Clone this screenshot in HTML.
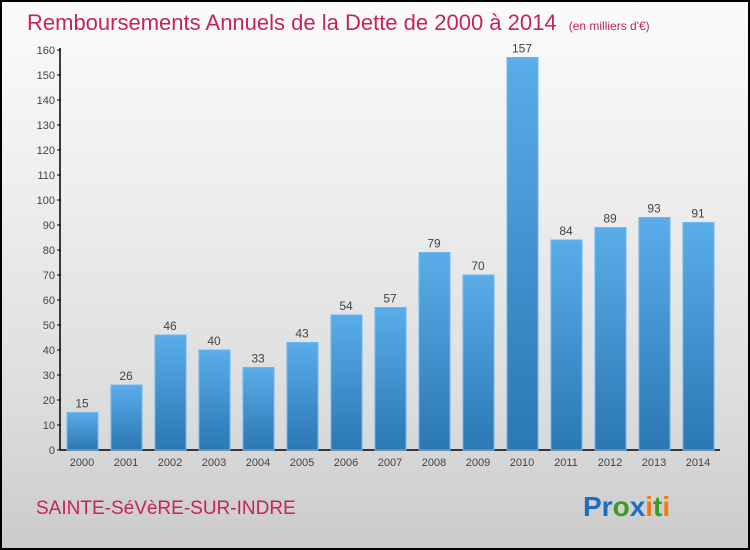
<!DOCTYPE html>
<html><head><meta charset="utf-8"><style>
body{margin:0;}
#wrap{position:relative;width:746px;height:546px;border:2px solid #000;background:linear-gradient(#fbfbfb,#f0f0f0 30%,#dcdcdc 75%,#cbcbcb);font-family:"Liberation Sans",sans-serif;overflow:hidden;}
</style></head><body>
<div id="wrap">
<svg width="746" height="546" viewBox="2 2 746 546">
<defs><linearGradient id="bg" x1="0" y1="0" x2="0" y2="1"><stop offset="0" stop-color="#5aacea"/><stop offset="1" stop-color="#2a78b4"/></linearGradient></defs>
<text x="27" y="30" font-size="22" fill="#c4245a">Remboursements Annuels de la Dette de 2000 à 2014 <tspan font-size="12" dx="6">(en milliers d'€)</tspan></text>
<g id="axes"></g><g id="bars"></g>
<text x="36" y="514" font-size="19" fill="#c4245a">SAINTE-SéVèRE-SUR-INDRE</text>
<text x="583" y="516" font-size="28" font-weight="bold"><tspan fill="#1a6fc4">Pr</tspan><tspan fill="#3a9a2a">o</tspan><tspan fill="#1a6fc4">x</tspan><tspan fill="#f07a10">i</tspan><tspan fill="#3a9a2a">t</tspan><tspan fill="#f07a10">i</tspan></text>
</svg></div>
<script>
const years=["2000","2001","2002","2003","2004","2005","2006","2007","2008","2009","2010","2011","2012","2013","2014"];
const values=[15,26,46,40,33,43,54,57,79,70,157,84,89,93,91];
const ticks=[0,10,20,30,40,50,60,70,80,90,100,110,120,130,140,150,160];
const NS="http://www.w3.org/2000/svg";
const y=v=>450-v*2.5, x=i=>82+i*44;
function mk(t,a,p){const e=document.createElementNS(NS,t);for(const k in a)e.setAttribute(k,a[k]);p.appendChild(e);return e;}
const ax=document.getElementById('axes'),bs=document.getElementById('bars');
const yl=mk('line',{x1:60,y1:48,x2:60,y2:450,stroke:'#000','stroke-width':1.5},ax);


const xl=mk('line',{x1:60,y1:450,x2:720,y2:450,stroke:'#000','stroke-width':1.5},ax);


ticks.forEach(t=>{mk('line',{x1:57,x2:61,y1:y(t),y2:y(t),stroke:'#000'},ax);
const tx=mk('text',{x:55,y:y(t)+4,'font-size':11,'text-anchor':'end',fill:'#444'},ax);tx.textContent=t;

});
years.forEach((yr,i)=>{const v=values[i];
const r=mk('rect',{x:x(i)-15,y:y(v),width:31,height:450-y(v),fill:'url(#bg)',stroke:'#6bb8ef','stroke-width':1},bs);


const l=mk('text',{x:x(i),y:y(v)-5,'font-size':12,'text-anchor':'middle',fill:'#444'},bs);l.textContent=v;


const xt=mk('text',{x:x(i),y:466,'font-size':11,'text-anchor':'middle',fill:'#444'},bs);xt.textContent=yr;

});
</script>
</body></html>
